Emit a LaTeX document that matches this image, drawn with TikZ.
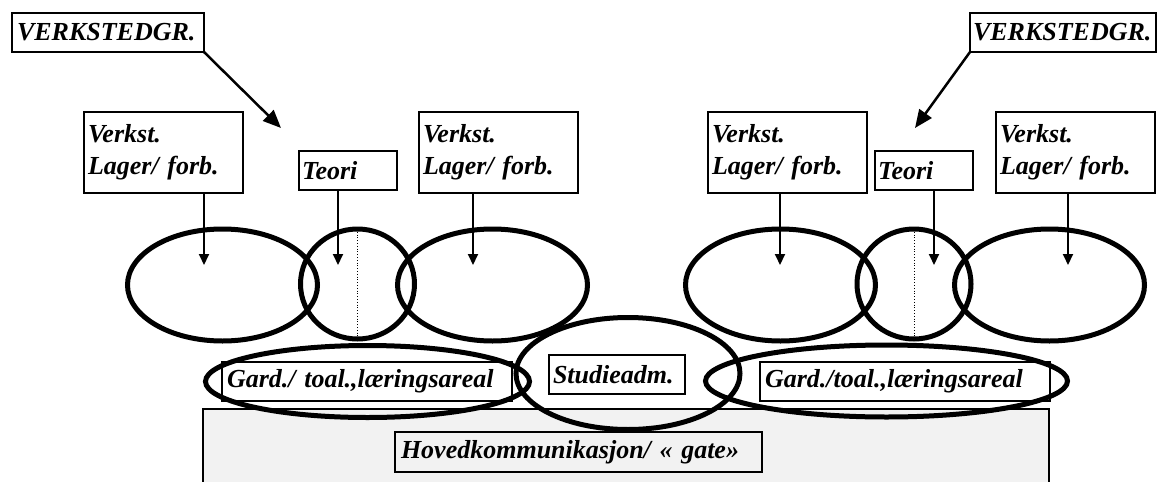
\documentclass[tikz,border=0pt]{standalone}
\usepackage{fontspec}
\setmainfont{Liberation Serif}
\usetikzlibrary{arrows.meta}
\definecolor{gatefill}{HTML}{F2F2F2}
\tikzset{
  lbl/.style={draw, line width=2pt, font=\bfseries\itshape\fontsize{26}{32}\selectfont,
    align=left, anchor=north west, inner ysep=0pt, outer sep=0pt},
  ell/.style={line width=5pt},
  darr/.style={line width=2pt, -{Triangle[length=11pt,width=10pt]}},
  barr/.style={line width=2.5pt, -{Triangle[length=18pt,width=15pt]}},
  dotline/.style={line width=0.8pt, dotted}
}
\begin{document}
\begin{tikzpicture}[x=1pt,y=-1pt]
\useasboundingbox (0,0) rectangle (1157,482);
% gray main corridor
\fill[gatefill] (203,409) rectangle (1049,482);
\draw[line width=2pt] (203,482) -- (203,409) -- (1049,409) -- (1049,482);

% boxes
\node[lbl, text width=182pt, inner xsep=5pt, minimum height=39pt] (vg1) at (12,13) {VERKSTEDGR.};
\node[lbl, text width=180pt, inner xsep=3pt, minimum height=39pt] (vg2) at (970,13) {VERKSTEDGR.};
\node[lbl, text width=151pt, inner xsep=4pt, minimum height=81pt] (vk1) at (84,112) {Verkst.\\Lager/ forb.};
\node[lbl, text width=151pt, inner xsep=4pt, minimum height=81pt] (vk2) at (419,112) {Verkst.\\Lager/ forb.};
\node[lbl, text width=151pt, inner xsep=4pt, minimum height=81pt] (vk3) at (708,112) {Verkst.\\Lager/ forb.};
\node[lbl, text width=151pt, inner xsep=4pt, minimum height=81pt] (vk4) at (996,112) {Verkst.\\Lager/ forb.};
\node[lbl, text width=92pt, inner xsep=3pt, minimum height=39pt] (t1) at (299,151) {Teori};
\node[lbl, text width=92pt, inner xsep=3pt, minimum height=39pt] (t2) at (875,151) {Teori};
\node[lbl, text width=280pt, inner xsep=5pt, minimum height=39pt] (g1) at (222,362) {Gard./ toal.,læringsareal};
\node[lbl, text width=280pt, inner xsep=5pt, minimum height=39pt] (g2) at (760,362) {Gard./toal.,læringsareal};
\node[lbl, text width=128pt, inner xsep=4pt, minimum height=39pt] (sa) at (549,355) {Studieadm.};
\node[lbl, text width=355pt, inner xsep=6pt, minimum height=40pt] (hv) at (395,432) {Hovedkommunikasjon/ « gate»};

% ellipses (rooms)
\draw[ell] (222.5,285) ellipse [x radius=95, y radius=56];
\draw[ell] (492.5,285) ellipse [x radius=95, y radius=56];
\draw[ell] (357.5,284) ellipse [x radius=57, y radius=55];
\draw[ell] (780.5,285) ellipse [x radius=95, y radius=56];
\draw[ell] (1049.5,285) ellipse [x radius=95, y radius=56];
\draw[ell] (914,284) ellipse [x radius=57, y radius=55];
\draw[ell] (367.5,381.5) ellipse [x radius=162, y radius=36];
\draw[ell] (628,373.5) ellipse [x radius=112, y radius=56];
\draw[ell] (886.5,381) ellipse [x radius=181, y radius=36];

% dotted dividers
\coordinate (d1t) at (357.5,229);
\coordinate (d1b) at (357.5,339);
\coordinate (d2t) at (914,229);
\coordinate (d2b) at (914,339);
\draw[dotline] (d1t) -- (d1b);
\draw[dotline] (d2t) -- (d2b);

% arrow targets
\coordinate (a1) at (204,265);
\coordinate (a2) at (338,265);
\coordinate (a3) at (473,265);
\coordinate (a4) at (780,265);
\coordinate (a5) at (934,265);
\coordinate (a6) at (1068,265);
\coordinate (vgt1) at (281,128);
\coordinate (vgt2) at (915,128);

\draw[darr] (vk1.south -| a1) -- (a1);
\draw[darr] (t1.south -| a2) -- (a2);
\draw[darr] (vk2.south -| a3) -- (a3);
\draw[darr] (vk3.south -| a4) -- (a4);
\draw[darr] (t2.south -| a5) -- (a5);
\draw[darr] (vk4.south -| a6) -- (a6);

\draw[barr] (vg1.south east) -- (vgt1);
\draw[barr] (vg2.south west) -- (vgt2);
\end{tikzpicture}
\end{document}
